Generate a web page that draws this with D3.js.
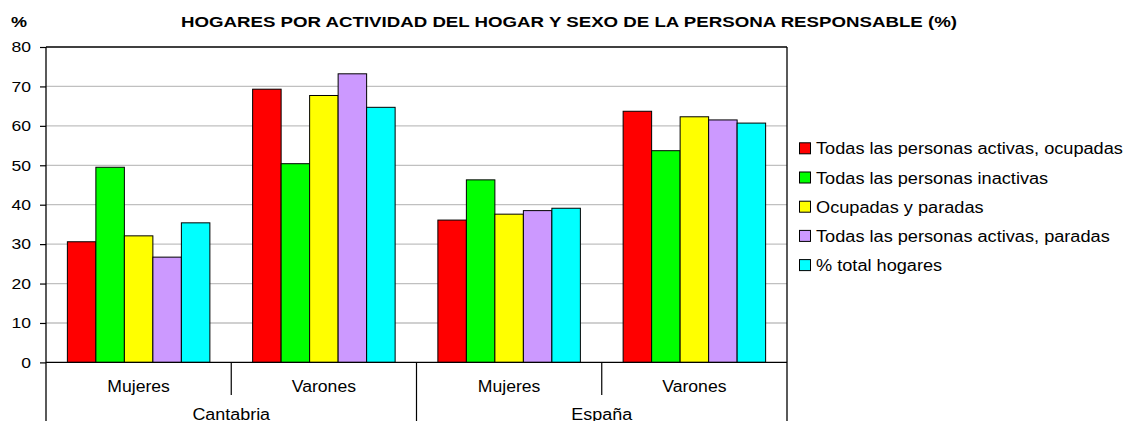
<!DOCTYPE html>
<html>
<head>
<meta charset="utf-8">
<script src="https://cdn.jsdelivr.net/npm/d3@7"></script>
<style>
  html, body { margin: 0; padding: 0; background: #fff; }
  svg { display: block; font-family: Arial, "Liberation Sans", sans-serif; }
</style>
</head>
<body>
<svg id="chart" width="1127" height="421"></svg>
<script>
// ---- data ----
const regions = ["Cantabria", "España"];
const sexes = ["Mujeres", "Varones"];
const seriesNames = [
  "Todas las personas activas, ocupadas",
  "Todas las personas inactivas",
  "Ocupadas y paradas",
  "Todas las personas activas, paradas",
  "% total hogares"
];
const seriesColors = ["#ff0000", "#00ff00", "#ffff00", "#cc99ff", "#00ffff"];
const cantabriaMujeres = [30.6, 49.5, 32.1, 26.7, 35.4];
const cantabriaVarones = [69.3, 50.4, 67.7, 73.2, 64.7];
const espanaMujeres = [36.1, 46.3, 37.6, 38.5, 39.1];
const espanaVarones = [63.7, 53.7, 62.3, 61.5, 60.7];
const yTicks = [0, 10, 20, 30, 40, 50, 60, 70, 80];
const titleText = "HOGARES POR ACTIVIDAD DEL HOGAR Y SEXO DE LA PERSONA RESPONSABLE (%)";
const yUnit = "%";

(function () {
const groups = [
  { region: regions[0], sex: sexes[0], values: cantabriaMujeres },
  { region: regions[0], sex: sexes[1], values: cantabriaVarones },
  { region: regions[1], sex: sexes[0], values: espanaMujeres },
  { region: regions[1], sex: sexes[1], values: espanaVarones }
];
groups.forEach(g => g.key = g.region + "|" + g.sex);

// widen text horizontally (reference glyphs are rendered wider than Arial)
function stretch(sel, f) {
  sel.each(function () {
    const w = this.getComputedTextLength();
    d3.select(this).attr("textLength", w * f).attr("lengthAdjust", "spacingAndGlyphs");
  });
}

const svg = d3.select("#chart");
const pLeft = 46, pRight = 787, pTop = 47, zeroY = 362.4, bottomEdge = 421;

const y = d3.scaleLinear().domain([0, 80]).range([zeroY, pTop]);
const x0 = d3.scaleBand().domain(groups.map(g => g.key)).range([pLeft, pRight]).paddingInner(0).paddingOuter(0);
const x1 = d3.scaleBand().domain(seriesNames).range([0, x0.bandwidth()]).paddingInner(0).paddingOuter(0.75);
const xr = d3.scaleBand().domain(regions).range([pLeft, pRight]);
const color = d3.scaleOrdinal().domain(seriesNames).range(seriesColors);

// grid lines
svg.append("g").selectAll("line")
  .data(yTicks.filter(t => t > 0 && t < 80))
  .join("line")
  .attr("x1", pLeft).attr("x2", pRight)
  .attr("y1", d => y(d)).attr("y2", d => y(d))
  .attr("stroke", "#c0c0c0").attr("stroke-width", 1.3);

// bars
const gBars = svg.append("g");
groups.forEach(g => {
  gBars.append("g")
    .attr("transform", `translate(${x0(g.key)},0)`)
    .selectAll("rect")
    .data(g.values.map((v, i) => ({ name: seriesNames[i], v })))
    .join("rect")
    .attr("x", d => x1(d.name))
    .attr("y", d => y(d.v))
    .attr("width", x1.bandwidth())
    .attr("height", d => y(0) - y(d.v))
    .attr("fill", d => color(d.name))
    .attr("stroke", "#000")
    .attr("stroke-width", 1);
});

// y axis
const yAxis = d3.axisLeft(y).tickValues(yTicks).tickSize(6).tickSizeOuter(0).tickPadding(9);
const gy = svg.append("g").attr("transform", `translate(${pLeft},0)`).call(yAxis);
gy.select(".domain").remove();
gy.selectAll(".tick line").attr("stroke", "#000").attr("stroke-width", 1.2);
gy.selectAll(".tick text").attr("font-size", 15).attr("fill", "#000")
  .attr("font-family", "Arial, 'Liberation Sans', sans-serif");
stretch(gy.selectAll(".tick text"), 1.17);

// frame lines
const frame = svg.append("g").attr("stroke", "#000").attr("stroke-width", 1.3);
frame.append("line").attr("x1", pLeft).attr("x2", pLeft).attr("y1", pTop).attr("y2", bottomEdge);
frame.append("line").attr("x1", pLeft).attr("x2", pRight).attr("y1", pTop).attr("y2", pTop);
frame.append("line").attr("x1", pRight).attr("x2", pRight).attr("y1", pTop).attr("y2", bottomEdge);
frame.append("line").attr("x1", pLeft).attr("x2", pRight).attr("y1", zeroY).attr("y2", zeroY);

// inner dividers (between sexes)
svg.append("g").selectAll("line")
  .data(groups.filter(g => g.sex !== sexes[0]))
  .join("line")
  .attr("x1", d => x0(d.key)).attr("x2", d => x0(d.key))
  .attr("y1", zeroY).attr("y2", 395)
  .attr("stroke", "#000").attr("stroke-width", 1.2);
// region divider
svg.append("g").selectAll("line")
  .data(regions.slice(1))
  .join("line")
  .attr("x1", d => xr(d)).attr("x2", d => xr(d))
  .attr("y1", zeroY).attr("y2", bottomEdge)
  .attr("stroke", "#000").attr("stroke-width", 1.2);

// sex labels
const sexLabels = svg.append("g").selectAll("text")
  .data(groups)
  .join("text")
  .attr("x", d => x0(d.key) + x0.bandwidth() / 2)
  .attr("y", 392)
  .attr("text-anchor", "middle")
  .attr("font-size", 16)
  .attr("fill", "#000")
  .text(d => d.sex);
stretch(sexLabels, 1.1);

// region labels
const regLabels = svg.append("g").selectAll("text")
  .data(regions)
  .join("text")
  .attr("x", d => xr(d) + xr.bandwidth() / 2)
  .attr("y", 419.5)
  .attr("text-anchor", "middle")
  .attr("font-size", 16)
  .attr("fill", "#000")
  .text(d => d);
stretch(regLabels, 1.12);

// title
const title = svg.append("text")
  .attr("x", 569).attr("y", 26.5)
  .attr("text-anchor", "middle")
  .attr("font-size", 15)
  .attr("font-weight", "bold")
  .attr("fill", "#000")
  .text(titleText);
title.attr("textLength", 776).attr("lengthAdjust", "spacingAndGlyphs");

const unit = svg.append("text")
  .attr("x", 11).attr("y", 27)
  .attr("font-size", 15)
  .attr("font-weight", "bold")
  .attr("fill", "#000")
  .text(yUnit);
stretch(unit, 1.2);

// legend
const legItems = svg.append("g").selectAll("g")
  .data(seriesNames)
  .join("g")
  .attr("transform", (d, i) => `translate(799,${148.3 + i * 29.2})`);
legItems.append("rect")
  .attr("x", 0.5).attr("y", -5.5)
  .attr("width", 11).attr("height", 11)
  .attr("fill", d => color(d))
  .attr("stroke", "#000").attr("stroke-width", 1);
const legText = legItems.append("text")
  .attr("x", 17).attr("y", 6)
  .attr("font-size", 16)
  .attr("fill", "#000")
  .text(d => d);
stretch(legText, 1.135);
})();
</script>
</body>
</html>
